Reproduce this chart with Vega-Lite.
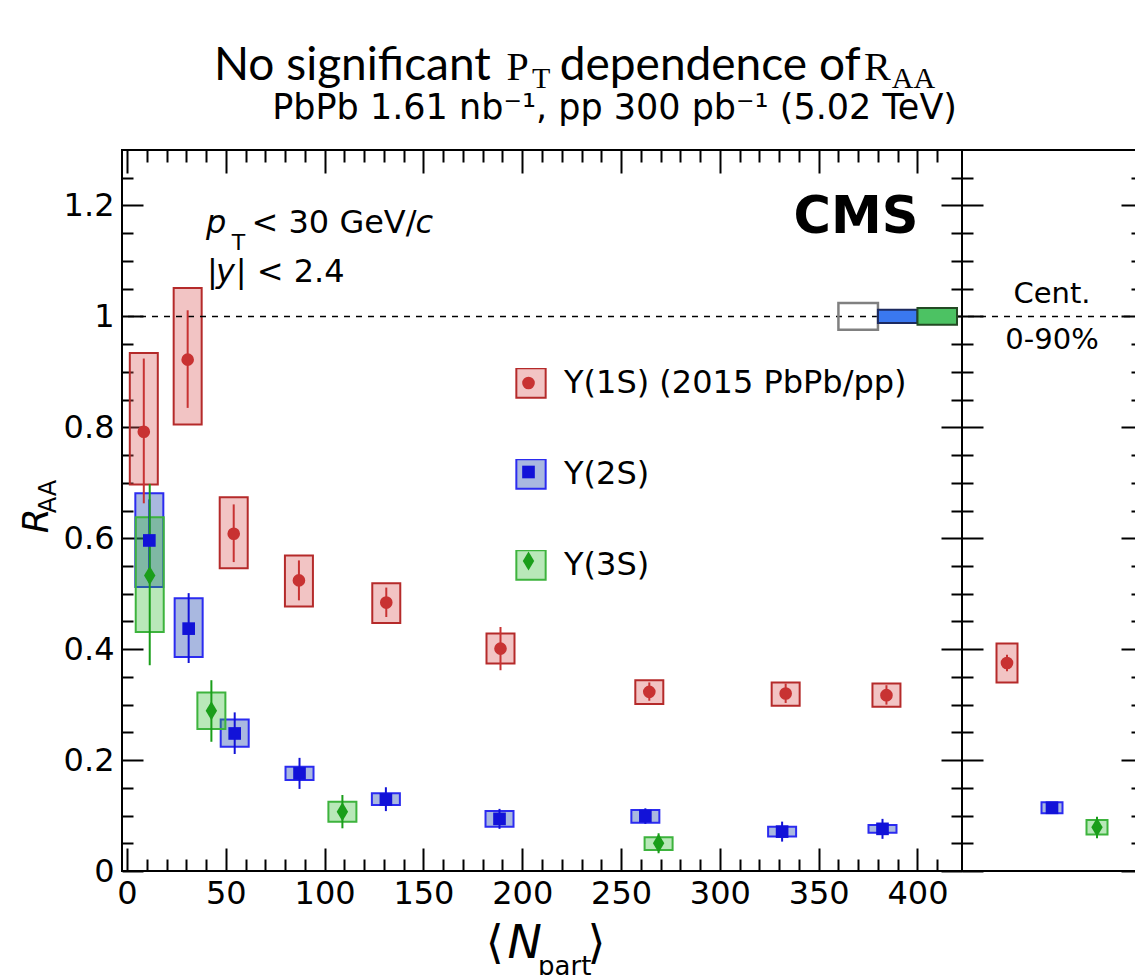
{
  "$schema": "https://vega.github.io/schema/vega-lite/v6.json",
  "padding": {"left": 17, "top": 42, "right": 0, "bottom": 0},
  "background": "white",
  "spacing": 0,
  "bounds": "flush",
  "config": {
    "font": "DejaVu Sans",
    "view": {"stroke": "black", "strokeWidth": 2},
    "axis": {"grid": false, "domain": false, "tickColor": "black", "tickWidth": 2, "labelColor": "black", "labelFont": "DejaVu Sans"},
    "text": {"color": "black"}
  },
  "datasets": {
    "cent": [
      {"state": "1S", "series": "Υ(1S) (2015 PbPb/pp)", "npart": 8.5, "raa": 0.792, "statLo": 0.663, "statHi": 0.924, "sysLo": 0.697, "sysHi": 0.934},
      {"state": "1S", "series": "Υ(1S) (2015 PbPb/pp)", "npart": 30.7, "raa": 0.922, "statLo": 0.835, "statHi": 1.011, "sysLo": 0.805, "sysHi": 1.051},
      {"state": "1S", "series": "Υ(1S) (2015 PbPb/pp)", "npart": 54, "raa": 0.608, "statLo": 0.557, "statHi": 0.661, "sysLo": 0.546, "sysHi": 0.674},
      {"state": "1S", "series": "Υ(1S) (2015 PbPb/pp)", "npart": 87, "raa": 0.524, "statLo": 0.488, "statHi": 0.56, "sysLo": 0.477, "sysHi": 0.569},
      {"state": "1S", "series": "Υ(1S) (2015 PbPb/pp)", "npart": 131.2, "raa": 0.484, "statLo": 0.458, "statHi": 0.511, "sysLo": 0.447, "sysHi": 0.519},
      {"state": "1S", "series": "Υ(1S) (2015 PbPb/pp)", "npart": 189, "raa": 0.401, "statLo": 0.362, "statHi": 0.44, "sysLo": 0.374, "sysHi": 0.428},
      {"state": "1S", "series": "Υ(1S) (2015 PbPb/pp)", "npart": 264.3, "raa": 0.323, "statLo": 0.307, "statHi": 0.34, "sysLo": 0.301, "sysHi": 0.344},
      {"state": "1S", "series": "Υ(1S) (2015 PbPb/pp)", "npart": 333.3, "raa": 0.32, "statLo": 0.303, "statHi": 0.338, "sysLo": 0.298, "sysHi": 0.34},
      {"state": "1S", "series": "Υ(1S) (2015 PbPb/pp)", "npart": 384.3, "raa": 0.317, "statLo": 0.3, "statHi": 0.335, "sysLo": 0.296, "sysHi": 0.338},
      {"state": "2S", "series": "Υ(2S)", "npart": 11.3, "raa": 0.596, "statLo": 0.52, "statHi": 0.67, "sysLo": 0.512, "sysHi": 0.681},
      {"state": "2S", "series": "Υ(2S)", "npart": 31.2, "raa": 0.437, "statLo": 0.375, "statHi": 0.501, "sysLo": 0.386, "sysHi": 0.492},
      {"state": "2S", "series": "Υ(2S)", "npart": 54.5, "raa": 0.248, "statLo": 0.211, "statHi": 0.286, "sysLo": 0.224, "sysHi": 0.273},
      {"state": "2S", "series": "Υ(2S)", "npart": 87.3, "raa": 0.176, "statLo": 0.148, "statHi": 0.204, "sysLo": 0.164, "sysHi": 0.188},
      {"state": "2S", "series": "Υ(2S)", "npart": 131, "raa": 0.129, "statLo": 0.108, "statHi": 0.151, "sysLo": 0.119, "sysHi": 0.14},
      {"state": "2S", "series": "Υ(2S)", "npart": 188.5, "raa": 0.094, "statLo": 0.076, "statHi": 0.112, "sysLo": 0.08, "sysHi": 0.108},
      {"state": "2S", "series": "Υ(2S)", "npart": 262.3, "raa": 0.099, "statLo": 0.085, "statHi": 0.113, "sysLo": 0.087, "sysHi": 0.11},
      {"state": "2S", "series": "Υ(2S)", "npart": 331.5, "raa": 0.071, "statLo": 0.053, "statHi": 0.089, "sysLo": 0.062, "sysHi": 0.08},
      {"state": "2S", "series": "Υ(2S)", "npart": 382.3, "raa": 0.076, "statLo": 0.058, "statHi": 0.094, "sysLo": 0.069, "sysHi": 0.083},
      {"state": "3S", "series": "Υ(3S)", "npart": 11.5, "raa": 0.533, "statLo": 0.371, "statHi": 0.698, "sysLo": 0.431, "sysHi": 0.638},
      {"state": "3S", "series": "Υ(3S)", "npart": 42.7, "raa": 0.289, "statLo": 0.233, "statHi": 0.344, "sysLo": 0.256, "sysHi": 0.322},
      {"state": "3S", "series": "Υ(3S)", "npart": 109, "raa": 0.107, "statLo": 0.077, "statHi": 0.137, "sysLo": 0.089, "sysHi": 0.125},
      {"state": "3S", "series": "Υ(3S)", "npart": 269, "raa": 0.05, "statLo": 0.032, "statHi": 0.068, "sysLo": 0.038, "sysHi": 0.061}
    ],
    "int": [
      {"state": "1S", "series": "Υ(1S) (2015 PbPb/pp)", "raa": 0.375, "statLo": 0.36, "statHi": 0.39, "sysLo": 0.34, "sysHi": 0.41},
      {"state": "2S", "series": "Υ(2S)", "raa": 0.114, "statLo": 0.105, "statHi": 0.123, "sysLo": 0.104, "sysHi": 0.124},
      {"state": "3S", "series": "Υ(3S)", "raa": 0.079, "statLo": 0.059, "statHi": 0.098, "sysLo": 0.066, "sysHi": 0.092}
    ],
    "global": [
      {"name": "pp", "lo": 0.976, "hi": 1.024},
      {"name": "2S", "lo": 0.988, "hi": 1.012},
      {"name": "3S", "lo": 0.985, "hi": 1.015}
    ]
  },
  "hconcat": [
    {
      "width": 840,
      "height": 721,
      "resolve": {"axis": {"x": "independent", "y": "independent"}},
      "layer": [
        {
          "data": {"name": "cent"},
          "mark": {"type": "bar", "width": 28, "strokeWidth": 2},
          "encoding": {
            "x": {"field": "npart", "type": "quantitative", "scale": {"domain": [0, 420], "nice": false, "zero": false},
              "axis": {"orient": "bottom", "values": [0,10,20,30,40,50,60,70,80,90,100,110,120,130,140,150,160,170,180,190,200,210,220,230,240,250,260,270,280,290,300,310,320,330,340,350,360,370,380,390,400,410],
                "tickSize": {"condition": {"test": "datum.value % 50 === 0", "value": -23}, "value": -12},
                "labelExpr": "datum.value % 50 === 0 ? datum.label : ''", "labelFontSize": 32, "labelPadding": 30, "labelOverlap": false, "labelFlush": false, "title": null}},
            "y": {"field": "sysLo", "type": "quantitative", "scale": {"domain": [0, 1.3], "nice": false, "zero": false},
              "axis": {"orient": "left", "values": [0,0.05,0.1,0.15,0.2,0.25,0.3,0.35,0.4,0.45,0.5,0.55,0.6,0.65,0.7,0.75,0.8,0.85,0.9,0.95,1,1.05,1.1,1.15,1.2,1.25],
                "tickSize": {"condition": {"test": "abs(datum.value*5-round(datum.value*5))<0.001", "value": -21}, "value": -11},
                "labelExpr": "abs(datum.value*5-round(datum.value*5))<0.001 ? format(datum.value,'~g') : ''", "labelFontSize": 32, "labelPadding": 29, "labelOverlap": false, "labelFlush": false, "title": null}},
            "y2": {"field": "sysHi"},
            "fill": {"field": "series", "type": "nominal",
              "scale": {"domain": ["Υ(1S) (2015 PbPb/pp)", "Υ(2S)", "Υ(3S)"], "range": ["rgba(218,86,86,0.35)", "rgba(9,52,166,0.35)", "rgba(44,184,44,0.33)"]},
              "legend": {"orient": "none", "legendX": 393, "legendY": 218, "direction": "vertical", "title": null, "symbolType": "square", "symbolSize": 860, "symbolStrokeWidth": 2, "labelFont": "DejaVu Sans", "labelFontSize": 32, "labelColor": "black", "labelOffset": 17, "labelLimit": 600, "clipHeight": 30, "rowPadding": 59, "padding": 0}},
            "stroke": {"field": "series", "type": "nominal",
              "scale": {"domain": ["Υ(1S) (2015 PbPb/pp)", "Υ(2S)", "Υ(3S)"], "range": ["#b52a2a", "#2b2bf0", "#3db33d"]},
              "legend": {"orient": "none", "legendX": 393, "legendY": 218, "direction": "vertical", "title": null, "symbolType": "square", "symbolSize": 860, "symbolStrokeWidth": 2, "labelFont": "DejaVu Sans", "labelFontSize": 32, "labelColor": "black", "labelOffset": 17, "labelLimit": 600, "clipHeight": 30, "rowPadding": 59, "padding": 0}}
          }
        },
        {
          "data": {"values": [{}]},
          "mark": {"type": "rule", "strokeDash": [6, 6], "strokeWidth": 1.5, "color": "black"},
          "encoding": {"y": {"datum": 1, "type": "quantitative", "axis": null}}
        },
        {
          "data": {"name": "global"},
          "transform": [{"filter": "datum.name === 'pp'"}],
          "mark": {"type": "rect", "fillOpacity": 0, "stroke": "#808080", "strokeWidth": 2.5},
          "encoding": {
            "x": {"datum": 360, "type": "quantitative", "axis": null}, "x2": {"datum": 380},
            "y": {"field": "lo", "type": "quantitative", "axis": null}, "y2": {"field": "hi"}
          }
        },
        {
          "data": {"name": "global"},
          "transform": [{"filter": "datum.name === '2S'"}],
          "mark": {"type": "rect", "fill": "#3a78f0", "stroke": "#1c2a60", "strokeWidth": 2},
          "encoding": {
            "x": {"datum": 380, "type": "quantitative", "axis": null}, "x2": {"datum": 400},
            "y": {"field": "lo", "type": "quantitative", "axis": null}, "y2": {"field": "hi"}
          }
        },
        {
          "data": {"name": "global"},
          "transform": [{"filter": "datum.name === '3S'"}],
          "mark": {"type": "rect", "fill": "#4cc263", "stroke": "#234a23", "strokeWidth": 2},
          "encoding": {
            "x": {"datum": 400, "type": "quantitative", "axis": null}, "x2": {"datum": 420},
            "y": {"field": "lo", "type": "quantitative", "axis": null}, "y2": {"field": "hi"}
          }
        },
        {
          "data": {"name": "cent"},
          "mark": {"type": "rule", "strokeWidth": 2},
          "encoding": {
            "x": {"field": "npart", "type": "quantitative",
              "axis": {"orient": "top", "values": [0,10,20,30,40,50,60,70,80,90,100,110,120,130,140,150,160,170,180,190,200,210,220,230,240,250,260,270,280,290,300,310,320,330,340,350,360,370,380,390,400,410],
                "tickSize": {"condition": {"test": "datum.value % 50 === 0", "value": -23}, "value": -12}, "labels": false, "title": null}},
            "y": {"field": "statLo", "type": "quantitative",
              "axis": {"orient": "right", "values": [0,0.05,0.1,0.15,0.2,0.25,0.3,0.35,0.4,0.45,0.5,0.55,0.6,0.65,0.7,0.75,0.8,0.85,0.9,0.95,1,1.05,1.1,1.15,1.2,1.25],
                "tickSize": {"condition": {"test": "abs(datum.value*5-round(datum.value*5))<0.001", "value": -21}, "value": -11}, "labels": false, "title": null}},
            "y2": {"field": "statHi"},
            "color": {"field": "state", "type": "nominal", "scale": {"domain": ["1S", "2S", "3S"], "range": ["#c83232", "#1212d8", "#1a9e1a"]}}
          }
        },
        {
          "data": {"name": "cent"},
          "mark": {"type": "point", "filled": true, "size": 160, "opacity": 1},
          "encoding": {
            "x": {"field": "npart", "type": "quantitative", "axis": null},
            "y": {"field": "raa", "type": "quantitative", "axis": null},
            "color": {"field": "state", "type": "nominal",
              "legend": {"orient": "none", "legendX": 400, "legendY": 218, "direction": "vertical", "title": null, "labelExpr": "''", "symbolSize": 160, "symbolStrokeWidth": 0, "clipHeight": 30, "rowPadding": 59, "padding": 0}},
            "shape": {"field": "state", "type": "nominal", "scale": {"domain": ["1S", "2S", "3S"], "range": ["circle", "square", "M0,-1.5L0.9,0L0,1.5L-0.9,0Z"]},
              "legend": {"orient": "none", "legendX": 400, "legendY": 218, "direction": "vertical", "title": null, "labelExpr": "''", "symbolSize": 160, "symbolStrokeWidth": 0, "clipHeight": 30, "rowPadding": 59, "padding": 0}}
          }
        },
        {
          "data": {"values": [{}]},
          "mark": {"type": "text", "text": "No significant", "font": "Lato", "fontSize": 46, "align": "left", "baseline": "alphabetic"},
          "encoding": {"x": {"datum": 44, "type": "quantitative", "axis": null}, "y": {"datum": 1.426, "type": "quantitative", "axis": null}}
        },
        {
          "data": {"values": [{}]},
          "mark": {"type": "text", "text": "P", "font": "Liberation Serif", "fontSize": 40, "align": "left", "baseline": "alphabetic"},
          "encoding": {"x": {"datum": 192, "type": "quantitative", "axis": null}, "y": {"datum": 1.426, "type": "quantitative", "axis": null}}
        },
        {
          "data": {"values": [{}]},
          "mark": {"type": "text", "text": "T", "font": "Liberation Serif", "fontSize": 30, "align": "left", "baseline": "alphabetic"},
          "encoding": {"x": {"datum": 205, "type": "quantitative", "axis": null}, "y": {"datum": 1.412, "type": "quantitative", "axis": null}}
        },
        {
          "data": {"values": [{}]},
          "mark": {"type": "text", "text": "dependence of", "font": "Lato", "fontSize": 46, "align": "left", "baseline": "alphabetic"},
          "encoding": {"x": {"datum": 219, "type": "quantitative", "axis": null}, "y": {"datum": 1.426, "type": "quantitative", "axis": null}}
        },
        {
          "data": {"values": [{}]},
          "mark": {"type": "text", "text": "R", "font": "Liberation Serif", "fontSize": 40, "align": "left", "baseline": "alphabetic"},
          "encoding": {"x": {"datum": 373, "type": "quantitative", "axis": null}, "y": {"datum": 1.426, "type": "quantitative", "axis": null}}
        },
        {
          "data": {"values": [{}]},
          "mark": {"type": "text", "text": "AA", "font": "Liberation Serif", "fontSize": 30, "align": "left", "baseline": "alphabetic"},
          "encoding": {"x": {"datum": 387, "type": "quantitative", "axis": null}, "y": {"datum": 1.412, "type": "quantitative", "axis": null}}
        },
        {
          "data": {"values": [{}]},
          "mark": {"type": "text", "text": "PbPb 1.61 nb⁻¹, pp 300 pb⁻¹ (5.02 TeV)", "fontSize": 35, "align": "right", "baseline": "alphabetic"},
          "encoding": {"x": {"datum": 420, "type": "quantitative", "axis": null}, "y": {"datum": 1.355, "type": "quantitative", "axis": null}}
        },
        {
          "data": {"values": [{}]},
          "mark": {"type": "text", "text": "CMS", "fontSize": 51, "fontWeight": "bold", "align": "right", "baseline": "alphabetic"},
          "encoding": {"x": {"datum": 400.5, "type": "quantitative", "axis": null}, "y": {"datum": 1.15, "type": "quantitative", "axis": null}}
        },
        {
          "data": {"values": [{}]},
          "mark": {"type": "text", "text": "p", "fontSize": 32, "fontStyle": "italic", "align": "left", "baseline": "alphabetic"},
          "encoding": {"x": {"datum": 40, "type": "quantitative", "axis": null}, "y": {"datum": 1.151, "type": "quantitative", "axis": null}}
        },
        {
          "data": {"values": [{}]},
          "mark": {"type": "text", "text": "T", "fontSize": 22, "align": "left", "baseline": "alphabetic"},
          "encoding": {"x": {"datum": 53, "type": "quantitative", "axis": null}, "y": {"datum": 1.119, "type": "quantitative", "axis": null}}
        },
        {
          "data": {"values": [{}]},
          "mark": {"type": "text", "text": "< 30 GeV/", "fontSize": 32, "align": "left", "baseline": "alphabetic"},
          "encoding": {"x": {"datum": 63, "type": "quantitative", "axis": null}, "y": {"datum": 1.151, "type": "quantitative", "axis": null}}
        },
        {
          "data": {"values": [{}]},
          "mark": {"type": "text", "text": "c", "fontSize": 32, "fontStyle": "italic", "align": "left", "baseline": "alphabetic"},
          "encoding": {"x": {"datum": 146, "type": "quantitative", "axis": null}, "y": {"datum": 1.151, "type": "quantitative", "axis": null}}
        },
        {
          "data": {"values": [{}]},
          "mark": {"type": "text", "text": "|", "fontSize": 32, "align": "left", "baseline": "alphabetic"},
          "encoding": {"x": {"datum": 40.5, "type": "quantitative", "axis": null}, "y": {"datum": 1.062, "type": "quantitative", "axis": null}}
        },
        {
          "data": {"values": [{}]},
          "mark": {"type": "text", "text": "y", "fontSize": 32, "fontStyle": "italic", "align": "left", "baseline": "alphabetic"},
          "encoding": {"x": {"datum": 45, "type": "quantitative", "axis": null}, "y": {"datum": 1.062, "type": "quantitative", "axis": null}}
        },
        {
          "data": {"values": [{}]},
          "mark": {"type": "text", "text": "| < 2.4", "fontSize": 32, "align": "left", "baseline": "alphabetic"},
          "encoding": {"x": {"datum": 55, "type": "quantitative", "axis": null}, "y": {"datum": 1.062, "type": "quantitative", "axis": null}}
        },
        {
          "data": {"values": [{}]},
          "mark": {"type": "text", "text": "R", "fontSize": 36, "fontStyle": "italic", "angle": 270, "align": "left", "baseline": "alphabetic"},
          "encoding": {"x": {"datum": -40, "type": "quantitative", "axis": null}, "y": {"datum": 0.609, "type": "quantitative", "axis": null}}
        },
        {
          "data": {"values": [{}]},
          "mark": {"type": "text", "text": "AA", "fontSize": 24, "angle": 270, "align": "left", "baseline": "alphabetic"},
          "encoding": {"x": {"datum": -36, "type": "quantitative", "axis": null}, "y": {"datum": 0.645, "type": "quantitative", "axis": null}}
        },
        {
          "data": {"values": [{}]},
          "mark": {"type": "text", "text": "⟨", "fontSize": 46, "align": "left", "baseline": "alphabetic"},
          "encoding": {"x": {"datum": 181.5, "type": "quantitative", "axis": null}, "y": {"datum": -0.157, "type": "quantitative", "axis": null}}
        },
        {
          "data": {"values": [{}]},
          "mark": {"type": "text", "text": "N", "fontSize": 46, "fontStyle": "italic", "align": "left", "baseline": "alphabetic"},
          "encoding": {"x": {"datum": 192.5, "type": "quantitative", "axis": null}, "y": {"datum": -0.157, "type": "quantitative", "axis": null}}
        },
        {
          "data": {"values": [{}]},
          "mark": {"type": "text", "text": "part", "fontSize": 26, "align": "left", "baseline": "alphabetic"},
          "encoding": {"x": {"datum": 208, "type": "quantitative", "axis": null}, "y": {"datum": -0.188, "type": "quantitative", "axis": null}}
        },
        {
          "data": {"values": [{}]},
          "mark": {"type": "text", "text": "⟩", "fontSize": 46, "align": "left", "baseline": "alphabetic"},
          "encoding": {"x": {"datum": 233, "type": "quantitative", "axis": null}, "y": {"datum": -0.157, "type": "quantitative", "axis": null}}
        }
      ]
    },
    {
      "width": 180,
      "height": 721,
      "resolve": {"axis": {"x": "independent", "y": "independent"}},
      "layer": [
        {
          "data": {"name": "int"},
          "mark": {"type": "bar", "width": 21, "strokeWidth": 2},
          "encoding": {
            "x": {"field": "state", "type": "nominal", "scale": {"type": "point", "domain": ["1S", "2S", "3S"], "padding": 1}, "axis": null},
            "y": {"field": "sysLo", "type": "quantitative", "scale": {"domain": [0, 1.3], "nice": false, "zero": false},
              "axis": {"orient": "left", "values": [0,0.05,0.1,0.15,0.2,0.25,0.3,0.35,0.4,0.45,0.5,0.55,0.6,0.65,0.7,0.75,0.8,0.85,0.9,0.95,1,1.05,1.1,1.15,1.2,1.25],
                "tickSize": {"condition": {"test": "abs(datum.value*5-round(datum.value*5))<0.001", "value": -21}, "value": -11}, "labels": false, "title": null}},
            "y2": {"field": "sysHi"},
            "fill": {"field": "series", "type": "nominal", "legend": null,
              "scale": {"domain": ["Υ(1S) (2015 PbPb/pp)", "Υ(2S)", "Υ(3S)"], "range": ["rgba(218,86,86,0.35)", "rgba(9,52,166,0.35)", "rgba(44,184,44,0.33)"]}},
            "stroke": {"field": "series", "type": "nominal", "legend": null,
              "scale": {"domain": ["Υ(1S) (2015 PbPb/pp)", "Υ(2S)", "Υ(3S)"], "range": ["#b52a2a", "#2b2bf0", "#3db33d"]}}
          }
        },
        {
          "data": {"values": [{}]},
          "mark": {"type": "rule", "strokeDash": [6, 6], "strokeWidth": 1.5, "color": "black"},
          "encoding": {"y": {"datum": 1, "type": "quantitative", "axis": null}}
        },
        {
          "data": {"name": "int"},
          "mark": {"type": "rule", "strokeWidth": 2},
          "encoding": {
            "x": {"field": "state", "type": "nominal", "axis": null},
            "y": {"field": "statLo", "type": "quantitative",
              "axis": {"orient": "right", "values": [0,0.05,0.1,0.15,0.2,0.25,0.3,0.35,0.4,0.45,0.5,0.55,0.6,0.65,0.7,0.75,0.8,0.85,0.9,0.95,1,1.05,1.1,1.15,1.2,1.25],
                "tickSize": {"condition": {"test": "abs(datum.value*5-round(datum.value*5))<0.001", "value": -21}, "value": -11}, "labels": false, "title": null}},
            "y2": {"field": "statHi"},
            "color": {"field": "state", "type": "nominal", "legend": null, "scale": {"domain": ["1S", "2S", "3S"], "range": ["#c83232", "#1212d8", "#1a9e1a"]}}
          }
        },
        {
          "data": {"name": "int"},
          "mark": {"type": "point", "filled": true, "size": 160, "opacity": 1},
          "encoding": {
            "x": {"field": "state", "type": "nominal", "axis": null},
            "y": {"field": "raa", "type": "quantitative", "axis": null},
            "color": {"field": "state", "type": "nominal", "legend": null},
            "shape": {"field": "state", "type": "nominal", "legend": null, "scale": {"domain": ["1S", "2S", "3S"], "range": ["circle", "square", "M0,-1.5L0.9,0L0,1.5L-0.9,0Z"]}}
          }
        },
        {
          "data": {"values": [{}]},
          "mark": {"type": "text", "text": "Cent.", "fontSize": 29, "align": "center", "baseline": "alphabetic"},
          "encoding": {"x": {"datum": "2S", "type": "nominal", "axis": null}, "y": {"datum": 1.024, "type": "quantitative", "axis": null}}
        },
        {
          "data": {"values": [{}]},
          "mark": {"type": "text", "text": "0-90%", "fontSize": 29, "align": "center", "baseline": "alphabetic"},
          "encoding": {"x": {"datum": "2S", "type": "nominal", "axis": null}, "y": {"datum": 0.942, "type": "quantitative", "axis": null}}
        }
      ]
    }
  ]
}
